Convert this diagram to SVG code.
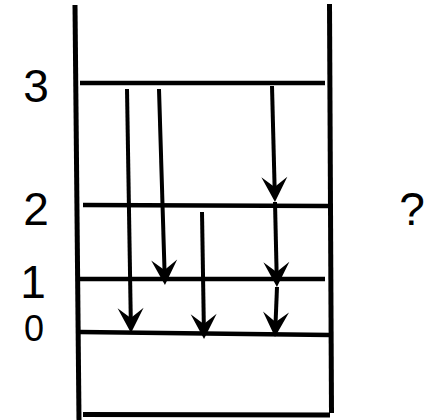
<svg xmlns="http://www.w3.org/2000/svg" width="444" height="420" viewBox="0 0 444 420">
  <style>
    .wall { stroke: #000; stroke-width: 5; fill: none; }
    .lvl { stroke: #000; stroke-width: 4.5; fill: none; }
    .arr { stroke: #000; stroke-width: 4; fill: none; marker-end: url(#head); }
    .lab { font-family: "Liberation Sans", "Open Sans", sans-serif; font-size: 46px; fill: #000; text-anchor: middle; }
  </style>
  <defs>
    <marker id="head" markerUnits="userSpaceOnUse" markerWidth="30" markerHeight="30" viewBox="-26 -15 30 30" refX="-15" refY="0" orient="auto">
      <path d="M0,0 L-25,-13 L-15,0 L-25,13 Z" fill="#000"/>
    </marker>
  </defs>
  <rect width="444" height="420" fill="#fff"/>
  <g id="box">
    <line class="wall" x1="75" y1="5" x2="79" y2="420"/>
    <line class="wall" x1="329.5" y1="4" x2="331.5" y2="413"/>
    <line class="wall" x1="83" y1="414.5" x2="330" y2="415"/>
  </g>
  <g id="level-3">
    <line class="lvl" x1="80" y1="83" x2="325" y2="83"/>
    <text class="lab" x="36" y="102">3</text>
  </g>
  <g id="level-2">
    <line class="lvl" x1="83" y1="205" x2="328" y2="206"/>
    <text class="lab" x="36" y="225">2</text>
  </g>
  <g id="level-1">
    <line class="lvl" x1="80" y1="279" x2="325" y2="279"/>
    <text class="lab" x="33" y="298">1</text>
  </g>
  <g id="level-0">
    <line class="lvl" x1="80" y1="332" x2="330" y2="335"/>
    <text class="lab" x="34" y="341" style="font-size:36px">0</text>
  </g>
  <g id="question">
    <text class="lab" x="412" y="225">?</text>
  </g>
  <g id="connectors">
    <line class="arr" x1="127" y1="89" x2="130.75" y2="318"/>
    <line class="arr" x1="159" y1="89" x2="164.5" y2="270"/>
    <line class="arr" x1="202" y1="212" x2="203.8" y2="324"/>
    <line class="arr" x1="272" y1="86" x2="274.6" y2="187"/>
    <line class="arr" x1="275" y1="202" x2="276.6" y2="272"/>
    <line class="arr" x1="277" y1="287" x2="275.6" y2="322"/>
  </g>
</svg>
